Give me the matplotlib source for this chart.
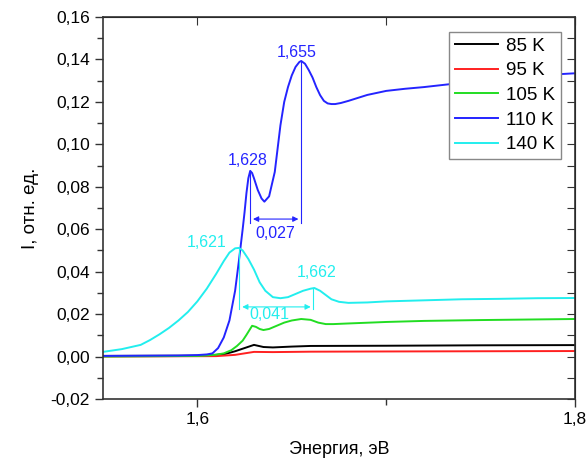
import matplotlib
matplotlib.use("Agg")
import matplotlib.pyplot as plt
from matplotlib.ticker import MultipleLocator, FuncFormatter

plt.rcParams['font.family'] = ['Liberation Sans', 'DejaVu Sans']

# 85 K
e_85 = [1.55, 1.60, 1.61, 1.615, 1.62, 1.625, 1.63, 1.635, 1.64, 1.65, 1.66, 1.70, 1.75, 1.80]
i_85 = [0.0003, 0.0004, 0.0008, 0.0013, 0.0025, 0.004, 0.0055, 0.0045, 0.0043, 0.0047, 0.005, 0.0051, 0.0053, 0.0054]

# 95 K
e_95 = [1.55, 1.61, 1.62, 1.625, 1.63, 1.64, 1.66, 1.70, 1.75, 1.80]
i_95 = [0.0, 0.0002, 0.0008, 0.0015, 0.0022, 0.0021, 0.0023, 0.0024, 0.0025, 0.0026]

# 105 K
e_105 = [1.55, 1.60, 1.605, 1.61, 1.614, 1.618, 1.621, 1.624, 1.626, 1.629, 1.631, 1.633,
         1.635, 1.638, 1.642, 1.646, 1.650, 1.655, 1.660, 1.664, 1.668, 1.672, 1.68,
         1.70, 1.72, 1.75, 1.78, 1.80]
i_105 = [0.0, 0.0003, 0.0005, 0.0009, 0.0015, 0.003, 0.005, 0.0075, 0.0102, 0.0145, 0.014, 0.013,
         0.0125, 0.013, 0.0145, 0.016, 0.017, 0.0177, 0.0173, 0.016, 0.0153, 0.0153, 0.0156,
         0.0163, 0.0168, 0.0172, 0.0175, 0.0177]

# 110 K
e_110 = [1.55, 1.57, 1.59, 1.60, 1.605, 1.608, 1.611, 1.614, 1.617, 1.620, 1.622, 1.624,
         1.625, 1.626, 1.627, 1.628, 1.629, 1.630, 1.632, 1.634, 1.6355, 1.638, 1.641,
         1.6425, 1.644, 1.646, 1.648, 1.650, 1.652, 1.654, 1.655, 1.657, 1.659, 1.661,
         1.663, 1.665, 1.667, 1.669, 1.671, 1.673, 1.676, 1.68, 1.69, 1.70, 1.71, 1.72,
         1.73, 1.74, 1.75, 1.76, 1.77, 1.78, 1.79, 1.80]
i_110 = [0.0003, 0.0004, 0.0005, 0.0007, 0.001, 0.0015, 0.004, 0.009, 0.017, 0.031, 0.045, 0.060,
         0.068, 0.077, 0.084, 0.0875, 0.0865, 0.084, 0.0785, 0.0745, 0.073, 0.0755, 0.087,
         0.098, 0.109, 0.120, 0.127, 0.1325, 0.1365, 0.1388, 0.1393, 0.138, 0.135, 0.1315,
         0.127, 0.1232, 0.1205, 0.1193, 0.119, 0.119, 0.1195, 0.1205, 0.1233, 0.1252, 0.1262, 0.127,
         0.128, 0.129, 0.130, 0.131, 0.1318, 0.1325, 0.133, 0.1335]

# 140 K
e_140 = [1.55, 1.56, 1.57, 1.575, 1.58, 1.585, 1.59, 1.595, 1.60, 1.605, 1.61, 1.614,
         1.617, 1.620, 1.622, 1.624, 1.627, 1.630, 1.633, 1.636, 1.640, 1.644, 1.648,
         1.652, 1.656, 1.660, 1.662, 1.665, 1.668, 1.671, 1.675, 1.68, 1.69, 1.70,
         1.72, 1.74, 1.76, 1.78, 1.80]
i_140 = [0.0022, 0.0035, 0.0055, 0.0078, 0.0105, 0.0135, 0.017, 0.021, 0.026, 0.032, 0.039, 0.045,
         0.049, 0.051, 0.0512, 0.050, 0.046, 0.041, 0.035, 0.031, 0.028, 0.0275, 0.028,
         0.0295, 0.031, 0.032, 0.0323, 0.031, 0.029, 0.027, 0.0258, 0.0253, 0.0255, 0.026,
         0.0265, 0.027, 0.0272, 0.0275, 0.0276]

series = [
    (e_85, i_85, '85 K', '#000000'),
    (e_95, i_95, '95 K', '#ff2020'),
    (e_105, i_105, '105 K', '#22dd22'),
    (e_110, i_110, '110 K', '#2424ff'),
    (e_140, i_140, '140 K', '#22eeee'),
]

fig = plt.figure(figsize=(5.88, 4.61), dpi=100)
ax = fig.add_axes([0.175, 0.1345, 0.803, 0.8285])

for x, y, lab, col in series:
    ax.plot(x, y, color=col, lw=1.4, label=lab)

ax.set_xlim(1.55, 1.80)
ax.set_ylim(-0.02, 0.16)

# peak markers and splitting arrows
blue = '#2424ff'
cyan = '#22eeee'
fs_ann = 11.5
ax.plot([1.628, 1.628], [0.0875, 0.063], color=blue, lw=0.8)
ax.plot([1.655, 1.655], [0.1393, 0.063], color=blue, lw=0.8)
ax.annotate('', xy=(1.628, 0.0648), xytext=(1.655, 0.0648),
            arrowprops=dict(arrowstyle='<|-|>', color=blue, lw=0.8, mutation_scale=8))
ax.text(1.6415, 0.0582, '0,027', color=blue, fontsize=fs_ann, ha='center', va='center')
ax.text(1.6265, 0.0925, '1,628', color=blue, fontsize=fs_ann, ha='center', va='center')
ax.text(1.6525, 0.1435, '1,655', color=blue, fontsize=fs_ann, ha='center', va='center')

ax.plot([1.6223, 1.6223], [0.0512, 0.0225], color=cyan, lw=0.8)
ax.plot([1.6615, 1.6615], [0.0323, 0.0225], color=cyan, lw=0.8)
ax.annotate('', xy=(1.6223, 0.0234), xytext=(1.6615, 0.0234),
            arrowprops=dict(arrowstyle='<|-|>', color=cyan, lw=0.8, mutation_scale=8))
ax.text(1.638, 0.0196, '0,041', color=cyan, fontsize=fs_ann, ha='center', va='center')
ax.text(1.605, 0.0537, '1,621', color=cyan, fontsize=fs_ann, ha='center', va='center')
ax.text(1.663, 0.0394, '1,662', color=cyan, fontsize=fs_ann, ha='center', va='center')

ax.xaxis.set_major_locator(MultipleLocator(0.2))
ax.xaxis.set_minor_locator(MultipleLocator(0.1))
ax.xaxis.set_major_formatter(FuncFormatter(lambda v, p: ('%.1f' % v).replace('.', ',')))
ax.yaxis.set_major_locator(MultipleLocator(0.02))
ax.yaxis.set_minor_locator(MultipleLocator(0.01))
ax.yaxis.set_major_formatter(FuncFormatter(lambda v, p: ('%.2f' % v).replace('.', ',').replace('-0,00', '0,00')))

ax.tick_params(which='both', direction='out', labelsize=12.5, width=1, color='#333333')
ax.tick_params(which='major', length=6)
ax.tick_params(which='minor', length=4)
# mirrored ticks on top/right pointing inward
ax2 = ax.secondary_xaxis('top')
ax2.xaxis.set_major_locator(MultipleLocator(0.1))
ax2.tick_params(direction='in', length=6, labeltop=False, color='#333333')
ax3 = ax.secondary_yaxis('right')
ax3.yaxis.set_major_locator(MultipleLocator(0.01))
ax3.tick_params(direction='in', length=6, labelright=False, color='#333333')

for s in ax.spines.values():
    s.set_linewidth(1.2)
    s.set_color('#333333')

ax.set_xlabel('Энергия, эВ', fontsize=13, labelpad=10)
ax.set_ylabel('I, отн. ед.', fontsize=13.5, labelpad=8)

leg = ax.legend(loc='upper right', bbox_to_anchor=(0.97, 0.962), fontsize=13.5,
                fancybox=False, edgecolor='#888888', framealpha=1, borderaxespad=0,
                handlelength=2.3, labelspacing=0.4, borderpad=0.32, handletextpad=0.4)
leg.get_frame().set_linewidth(1.0)

fig.savefig('out.png', dpi=100)
